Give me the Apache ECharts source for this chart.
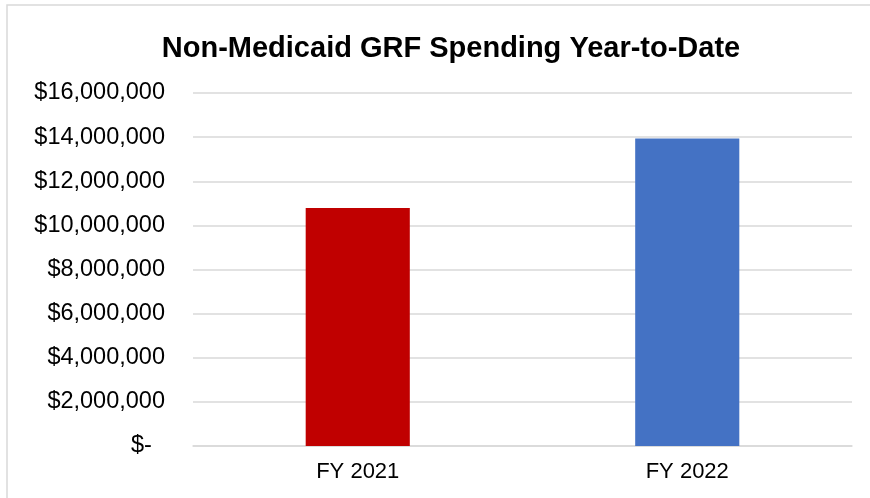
<!DOCTYPE html>
<html>
<head>
<meta charset="utf-8">
<script src="https://cdn.jsdelivr.net/npm/echarts@6/dist/echarts.min.js"></script>
<style>
  html, body { margin: 0; padding: 0; background: #ffffff; }
  #chart { width: 870px; height: 498px; }
</style>
</head>
<body>
<div id="chart"></div>
<script>
// Year-to-date non-Medicaid GRF spending by fiscal year
const categories = ['FY 2021', 'FY 2022'];
const spending = [10790000, 13940000];
const barColors = ['#C00000', '#4472C4'];
const yTicks = [0, 2000000, 4000000, 6000000, 8000000, 10000000, 12000000, 14000000, 16000000];

const FONT = '"Liberation Sans", Arial, sans-serif';

function money(v) {
  if (v === 0) return '$-  ';
  return '$' + v.toLocaleString('en-US');
}

const chart = echarts.init(document.getElementById('chart'), null, { renderer: 'canvas' });

chart.setOption({
  backgroundColor: '#ffffff',
  animation: false,
  title: {
    text: 'Non-Medicaid GRF Spending Year-to-Date',
    left: 446,
    textAlign: 'center',
    top: 29,
    textStyle: { fontFamily: FONT, fontSize: 29, fontWeight: 'bold', color: '#000000' }
  },
  graphic: [{
    type: 'rect',
    shape: { x: 7, y: 5, width: 900, height: 600 },
    style: { fill: 'none', stroke: '#d9d9d9', lineWidth: 1.5 },
    silent: true
  }],
  grid: { left: 193, right: 18, top: 93, bottom: 52, containLabel: false },
  xAxis: {
    type: 'category',
    data: categories,
    axisLine: { show: true, lineStyle: { color: '#d9d9d9', width: 1.5 } },
    axisTick: { show: false },
    axisLabel: { fontFamily: FONT, fontSize: 22, color: '#000000', margin: 15 }
  },
  yAxis: {
    type: 'value',
    min: yTicks[0],
    max: yTicks[yTicks.length - 1],
    interval: yTicks[1] - yTicks[0],
    axisLine: { show: false },
    axisTick: { show: false },
    splitLine: { lineStyle: { color: '#d9d9d9', width: 1.5 } },
    axisLabel: { fontFamily: FONT, fontSize: 23.5, color: '#000000', margin: 28, formatter: money }
  },
  series: [{
    type: 'bar',
    data: spending.map((v, i) => ({ value: v, itemStyle: { color: barColors[i] } })),
    barWidth: '31.6%'
  }]
});
</script>
</body>
</html>
